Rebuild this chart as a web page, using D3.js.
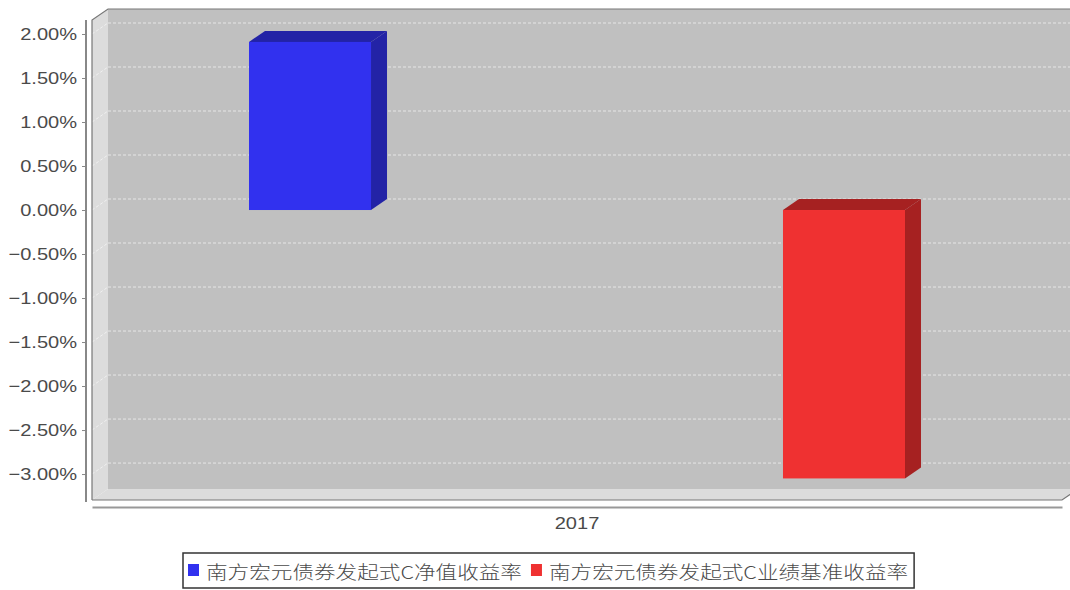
<!DOCTYPE html>
<html>
<head>
<meta charset="utf-8">
<script src="https://cdn.jsdelivr.net/npm/d3@7"></script>
<style>
  body { margin: 0; background: #fff; }
  svg { display: block; }
</style>
</head>
<body>
<div id="chart"></div>
<script>
// data
const categories = ["2017"];
const seriesNames = ["南方宏元债券发起式C净值收益率", "南方宏元债券发起式C业绩基准收益率"];
const seriesValues = [[1.91], [-3.05]];   // percent, one value per category
const seriesColors = ["#3131ef", "#ef3131"];
const seriesDark = ["#2323a6", "#a62121"];
const yTicks = [2, 1.5, 1, 0.5, 0, -0.5, -1, -1.5, -2, -2.5, -3];

const width = 1070, height = 590;
const depthX = 16, depthY = 11;   // 3d offset
const plot = { left: 92, right: 1062, top: 20, bottom: 500 };
const stretch = 1.18;   // the original picture's text is a bit wide
const latin = '"Liberation Sans", Arial, sans-serif';

const svg = d3.select('#chart').append('svg')
  .attr('width', width).attr('height', height);

const y = d3.scaleLinear().domain([-3.295, 2.159]).range([plot.bottom, plot.top]);
const x0 = d3.scaleBand().domain(categories).range([plot.left, plot.right]);
const x1 = d3.scaleBand().domain(d3.range(seriesNames.length))
  .range([0, x0.bandwidth()]).paddingInner(0.7715).paddingOuter(0.294);

// back wall
svg.append('rect')
  .attr('x', plot.left + depthX).attr('y', plot.top - depthY)
  .attr('width', width - plot.left - depthX).attr('height', plot.bottom - plot.top)
  .attr('fill', '#c0c0c0');

// left wall
svg.append('path')
  .attr('d', `M${plot.left},${plot.top} L${plot.left + depthX},${plot.top - depthY} L${plot.left + depthX},${plot.bottom - depthY} L${plot.left},${plot.bottom} Z`)
  .attr('fill', '#dcdcdc');

// floor
svg.append('path')
  .attr('d', `M${plot.left},${plot.bottom} L${plot.left + depthX},${plot.bottom - depthY} L${plot.right + depthX},${plot.bottom - depthY} L${plot.right},${plot.bottom} Z`)
  .attr('fill', '#dcdcdc');

// grid lines on the walls
const grid = svg.append('g');
yTicks.forEach(t => {
  const yy = y(t);
  grid.append('line')
    .attr('x1', plot.left + depthX).attr('x2', width)
    .attr('y1', yy - depthY).attr('y2', yy - depthY)
    .attr('stroke', '#e6e6e6').attr('stroke-dasharray', '3,2').attr('stroke-width', 1);
  grid.append('line')
    .attr('x1', plot.left).attr('x2', plot.left + depthX)
    .attr('y1', yy).attr('y2', yy - depthY)
    .attr('stroke', '#f0f0f0').attr('stroke-dasharray', '3,2').attr('stroke-width', 1);
});

// plot outline
svg.append('path')
  .attr('d', `M${plot.left},${plot.bottom} L${plot.left},${plot.top} L${plot.left + depthX},${plot.top - depthY} L${width},${plot.top - depthY}`)
  .attr('fill', 'none').attr('stroke', '#777').attr('stroke-width', 1.2);
svg.append('path')
  .attr('d', `M${plot.left},${plot.bottom} L${plot.right},${plot.bottom} L${plot.right + depthX},${plot.bottom - depthY}`)
  .attr('fill', 'none').attr('stroke', '#777').attr('stroke-width', 1.2);

// bars
categories.forEach((c, ci) => {
  seriesValues.forEach((vals, si) => {
    const v = vals[ci];
    const bx = x0(c) + x1(si), bw = x1.bandwidth();
    const yTop = y(Math.max(0, v)), yBot = y(Math.min(0, v));
    const g = svg.append('g');
    // side
    g.append('path')
      .attr('d', `M${bx + bw},${yTop} L${bx + bw + depthX},${yTop - depthY} L${bx + bw + depthX},${yBot - depthY} L${bx + bw},${yBot} Z`)
      .attr('fill', seriesDark[si]);
    // top
    g.append('path')
      .attr('d', `M${bx},${yTop} L${bx + depthX},${yTop - depthY} L${bx + bw + depthX},${yTop - depthY} L${bx + bw},${yTop} Z`)
      .attr('fill', seriesDark[si]);
    // front
    g.append('rect')
      .attr('x', bx).attr('y', yTop).attr('width', bw).attr('height', yBot - yTop)
      .attr('fill', seriesColors[si]);
  });
});

// y axis
const yAxis = d3.axisLeft(y).tickValues(yTicks)
  .tickFormat(d => d3.format('.2f')(d) + '%').tickSize(4).tickPadding(3);
const ya = svg.append('g').attr('transform', 'translate(86,0)').call(yAxis);
ya.select('.domain').attr('d', `M0,${plot.top}V${plot.bottom + 2}`).attr('stroke', '#888').attr('stroke-width', 2);
ya.selectAll('.tick line').attr('stroke', '#888');
ya.selectAll('.tick text')
  .attr('x', -9 / stretch)
  .attr('transform', `scale(${stretch},1)`)
  .attr('fill', '#4a4a4a').style('font-family', latin).style('font-size', '17px');

// x axis
const xAxis = d3.axisBottom(x0).tickSize(0).tickPadding(10);
const xa = svg.append('g').attr('transform', `translate(0,${plot.bottom + 7})`).call(xAxis);
xa.select('.domain').attr('stroke', '#999').attr('stroke-width', 2);
xa.selectAll('.tick text')
  .attr('transform', `scale(${stretch},1)`)
  .attr('fill', '#4a4a4a').style('font-family', latin).style('font-size', '17px');

// legend
const legend = svg.append('g');
const legendFont = '"Noto Sans CJK SC", "Liberation Sans", sans-serif';
const items = legend.selectAll('g').data(seriesNames).enter().append('g');
let cursor = 188;
items.each(function(d, i) {
  const g = d3.select(this);
  g.append('rect').attr('x', cursor).attr('y', 564).attr('width', 11).attr('height', 12)
    .attr('fill', seriesColors[i]);
  const t = g.append('text').attr('x', cursor + 18).attr('y', 579)
    .attr('fill', '#4a4a4a').style('font-family', legendFont).style('font-size', '18px')
    .style('font-weight', 300).text(d);
  const len = t.node().getComputedTextLength() * 1.2;
  t.attr('textLength', len).attr('lengthAdjust', 'spacingAndGlyphs');
  cursor += 18 + len + 9;
});
legend.insert('rect', ':first-child')
  .attr('x', 183).attr('y', 553).attr('width', cursor - 183 - 3).attr('height', 35)
  .attr('fill', '#fff').attr('stroke', '#333').attr('stroke-width', 1.5);
</script>
</body>
</html>
